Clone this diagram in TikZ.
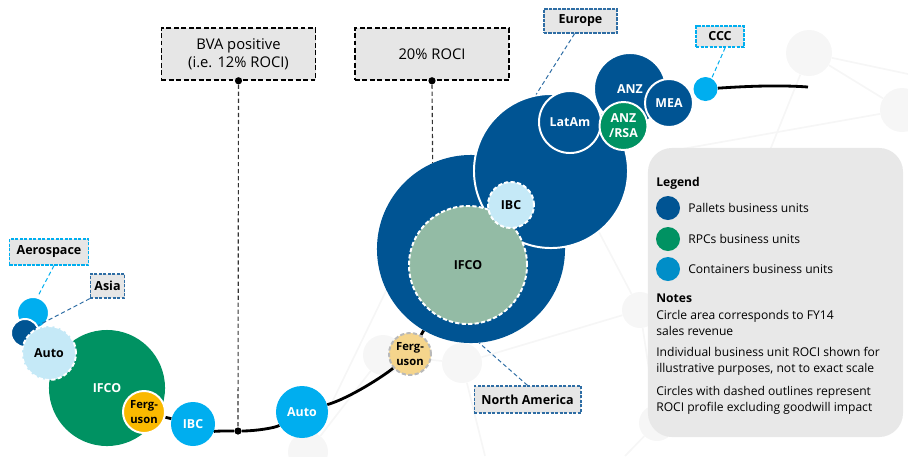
\documentclass[tikz,border=0pt]{standalone}
\usepackage{fontspec}
\setmainfont{Open Sans}
\usetikzlibrary{backgrounds}
\definecolor{palletblue}{RGB}{0,84,147}
\definecolor{rpcgreen}{RGB}{0,146,98}
\definecolor{contcyan}{RGB}{0,174,239}
\definecolor{legcyan}{RGB}{0,142,200}
\definecolor{fergyellow}{RGB}{250,185,0}
\definecolor{palegreen}{RGB}{147,187,165}
\definecolor{paleblue}{RGB}{197,233,247}
\definecolor{paleyellow}{RGB}{245,213,140}
\definecolor{boxgray}{RGB}{230,230,230}
\definecolor{legendgray}{RGB}{232,232,232}
\definecolor{netgray}{RGB}{246,246,246}
\definecolor{leadblue}{RGB}{46,109,164}
\newcommand{\bufont}{\fontsize{8.8}{10.5}\selectfont\bfseries}
\newcommand{\fgfont}{\fontsize{8}{10}\selectfont\bfseries}
\newcommand{\tagfont}{\fontsize{8.9}{10}\selectfont\bfseries}
\newcommand{\notefont}{\fontsize{10.5}{12.8}\selectfont}
\newcommand{\legfont}{\fontsize{8.6}{11.4}\selectfont}

\begin{document}
\begin{tikzpicture}[x=0.025cm, y=-0.025cm,
    bu/.style={circle, inner sep=0pt, minimum size={#1*0.05cm}, align=center, font=\bufont, text=white},
    rim/.style={draw=white, line width=1.4pt},
    dashrim/.style={draw=white, line width=1.4pt, dash pattern=on 3pt off 1.6pt},
    tag/.style={rectangle, fill=boxgray, dash pattern=on 2.2pt off 1pt, line width=0.9pt, font=\tagfont, inner xsep=0.18cm, minimum height=0.6cm},
    bigtag/.style={rectangle, draw=black, fill=boxgray, dash pattern=on 3.5pt off 1.8pt, line width=1.1pt, minimum width=3.85cm, minimum height=1.3cm, font=\notefont, align=center},
    dot/.style={circle, fill=black, inner sep=0pt, minimum size=0.18cm},
    drop/.style={densely dashed, line width=0.8pt, black!80},
    lead/.style={densely dashed, line width=0.7pt},
    track/.style={line width=2pt, black},
    netdot/.style={circle, fill=netgray, inner sep=0pt, minimum size={#1*0.05cm}},
    netline/.style={draw=netgray, line width=1.2pt},
    legbox/.style={rectangle, rounded corners=0.6cm, fill=legendgray, minimum width=6.375cm, minimum height=7.225cm},
    legdot/.style={circle, inner sep=0pt, minimum size=0.6cm},
    legtext/.style={anchor=west, font=\legfont, align=left, inner sep=0pt},
]
\useasboundingbox (0,0) rectangle (908,456);

% faint network in the background
\begin{scope}[on background layer]
  \node[netdot=23] (n1) at (809,53) {};
  \node[netdot=22] (n2) at (902,110) {};
  \node[netdot=20] (n3) at (383,355) {};
  \node[netdot=20] (n4) at (462,363) {};
  \node[netdot=18] (n5) at (640,310) {};
  \node[netdot=18] (n6) at (657,423) {};
  \node[netdot=20] (n7) at (308,452) {};
  \draw[netline] (n1) -- (n2);
  \draw[netline] (n1) -- (908,74);
  \draw[netline] (n1) -- (760,175);
  \draw[netline] (n2) -- (665,152);
  \draw[netline] (n2) -- (908,130);
  \draw[netline] (n3) -- (n4);
  \draw[netline] (n4) -- (n5);
  \draw[netline] (n5) -- (590,215);
  \draw[netline] (n5) -- (n6);
  \draw[netline] (n4) -- (485,456);
  \draw[netline] (n6) -- (625,456);
  \draw[netline] (n7) -- (n3);
  \draw[netline] (n7) -- (400,262);
\end{scope}

% left cluster
\node[bu=16, fill=contcyan, rim] (aero) at (33,313) {};
\node[bu=14, fill=palletblue, rim] (asia) at (25,333) {};
\node[bu=58, fill=rpcgreen] (ifcoL) at (107,388) {IFCO};
\node[bu=27, fill=paleblue, dashrim, text=black] (autoL) at (49,353) {Auto};
\node[bu=21, fill=fergyellow, rim, text=black, font=\fgfont] (ferL) at (144,412) {Ferg-\\uson};
\node[bu=22, fill=contcyan] (ibcL) at (193,424) {IBC};

% middle
\node[bu=26, fill=contcyan] (autoM) at (302,412) {Auto};
\node[bu=21, fill=paleyellow, draw=gray!55, line width=1.4pt, dash pattern=on 3pt off 1.6pt, text=black, font=\fgfont] (ferM) at (410,354) {Ferg-\\uson};

% North America and Europe
\node[bu=94, fill=palletblue] (na) at (471,249) {};
\node[bu=77, fill=palletblue, rim] (eu) at (551,171) {};
\node[bu=59, fill=palegreen, dashrim, text=black] (ifcoR) at (468,265) {IFCO};
\node[bu=23, fill=paleblue, dashrim, text=black] (ibcR) at (511,205) {IBC};
\node[bu=36, fill=palletblue, rim] (anz) at (630,89) {ANZ};
\node[bu=31, fill=palletblue, rim] (latam) at (570,122) {LatAm};
\node[bu=24, fill=rpcgreen, rim] (anzrsa) at (623.5,126) {ANZ\\/RSA};
\node[bu=24, fill=palletblue, rim] (mea) at (669,103) {MEA};
\node[bu=12, fill=contcyan] (ccc) at (705.5,89) {};
\coordinate (trackend) at (808,87);

% ROCI markers
\node[bigtag] (bva) at (238.5,54) {BVA positive\\(i.e. 12\% ROCI)};
\node[bigtag] (roci) at (432,54) {20\% ROCI};
\node[dot] (bvatop) at (bva.south) {};
\node[dot] (rocitop) at (roci.south) {};
\node[dot] (bvadot) at (238,431) {};
\draw[drop] (bvatop) -- (bvadot);
\draw[drop] (rocitop) -- (na.114.5);

% curve under the circles
\begin{scope}[on background layer]
  \draw[track] (ferL) -- (ibcL);
  \draw[track] (ibcL) .. controls (212,431) and (225,431) .. (bvadot)
    .. controls (255,431) and (275,428) .. (autoM);
  \draw[track] (autoM) .. controls (350,398) and (385,375) .. (ferM) -- (na);
  \draw[track] (ccc) .. controls (750,86) and (780,85) .. (trackend);
\end{scope}

% region tags
\node[tag, draw=contcyan, minimum height=0.65cm] (aerotag) at (49,252) {Aerospace};
\node[tag, draw=leadblue, inner xsep=0.1cm] (asiatag) at (107.5,286) {Asia};
\node[tag, draw=leadblue, minimum width=1.825cm] (eutag) at (580.5,21) {Europe};
\node[tag, draw=contcyan, minimum width=1.2cm, minimum height=0.525cm] (ccctag) at (720,36.5) {CCC};
\node[tag, draw=leadblue, minimum height=0.675cm] (natag) at (527.5,399.5) {North America};
\draw[lead, contcyan] (aerotag.290) -- (aero.74);
\draw[lead, leadblue] (asiatag.south west) -- (asia.30);
\draw[lead, leadblue] (eutag.245) -- (eu.101);
\draw[lead, contcyan] (ccctag.295) -- (ccc.60);
\draw[lead, leadblue] (natag.north) -- (na.275);

% legend
\node[legbox] (leg) at (775.5,292.5) {};
\node[legtext, font=\legfont\bfseries] (legtitle) at (656,183) {Legend};
\node[legdot, fill=palletblue] (ldot1) at (668,208) {};
\node[legdot, fill=rpcgreen] (ldot2) at (668,239) {};
\node[legdot, fill=legcyan] (ldot3) at (668,269) {};
\node[legtext] (ltext1) at (688,208) {Pallets business units};
\node[legtext] (ltext2) at (688,239) {RPCs business units};
\node[legtext] (ltext3) at (688,269) {Containers business units};
\node[legtext, font=\legfont\bfseries] (notetitle) at (656,298) {Notes};
\node[legtext] (note1) at (656,323) {Circle area corresponds to FY14\\sales revenue};
\node[legtext] (note2) at (656,361) {Individual business unit ROCI shown for\\illustrative purposes, not to exact scale};
\node[legtext] (note3) at (656,400) {Circles with dashed outlines represent\\ROCI profile excluding goodwill impact};

\end{tikzpicture}
\end{document}
